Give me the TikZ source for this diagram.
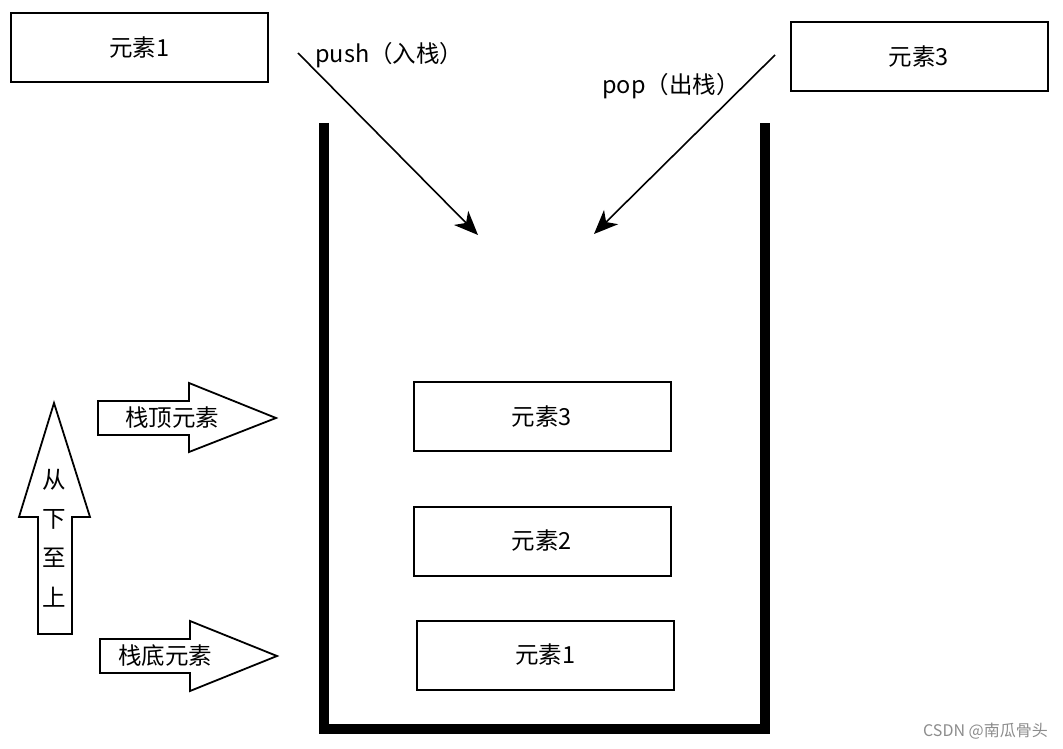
\documentclass[tikz,border=0pt]{standalone}
\usepackage{fontspec}
\setmainfont{Noto Sans CJK SC}
\usetikzlibrary{arrows.meta}
\begin{document}
\begin{tikzpicture}[x=1pt,y=-1pt,
  box/.style={draw,line width=2pt,minimum width=257pt,minimum height=69pt,inner sep=0pt,font=\fontsize{23.5}{26}\selectfont},
  lbl/.style={font=\fontsize{23.5}{26}\selectfont,inner sep=0pt},
  wall/.style={line width=10pt,miter limit=10},
  conn/.style={line width=1.6pt,-{Stealth[length=24pt,width=20pt,inset=7pt]}},
  blk/.style={draw,line width=1.8pt,fill=white,line join=miter}]
\useasboundingbox (0,0) rectangle (1063,749);
% stack walls
\draw[wall] (324,123) -- (324,729) -- (765,729) -- (765,123);
% top boxes
\node[box] (t1) at (139.5,47.5) {元素1};
\node[box] (t3) at (919,57) {元素3};
% inner boxes
\node[box] (s3) at (542,416.5) {元素3};
\node[box] (s2) at (542,541) {元素2};
\node[box] (s1) at (545.5,655) {元素1};
% push / pop arrows
\coordinate (pushA) at (298,53);
\coordinate (pushB) at (478,235);
\coordinate (popA) at (775,55);
\coordinate (popB) at (594,234);
\draw[conn] (pushA) -- (pushB);
\draw[conn] (popA) -- (popB);
\node[lbl,anchor=west] (pushL) at (315,55) {push（入栈）};
\node[lbl,anchor=west] (popL) at (602,86) {pop（出栈）};
% block arrows
\draw[blk] (98,401) -- (189,401) -- (189,383) -- (276,418) -- (189,452) -- (189,435) -- (98,435) -- cycle;
\node[lbl] (topL) at (172,418) {栈顶元素};
\draw[blk] (100,639) -- (190,639) -- (190,621) -- (277,656) -- (190,691) -- (190,673) -- (100,673) -- cycle;
\node[lbl] (botL) at (165,656) {栈底元素};
\draw[blk] (38,634) -- (38,517) -- (19,517) -- (54,403) -- (90,517) -- (72,517) -- (72,634) -- cycle;
\node[lbl] (u1) at (54,480) {从};
\node[lbl] (u2) at (54,519) {下};
\node[lbl] (u3) at (54,558) {至};
\node[lbl] (u4) at (54,597) {上};
% watermark
\node[font=\fontsize{16}{18}\selectfont,text=black!45,anchor=east,inner sep=0pt] (wm) at (1048,731) {CSDN @南瓜骨头};
\end{tikzpicture}
\end{document}
